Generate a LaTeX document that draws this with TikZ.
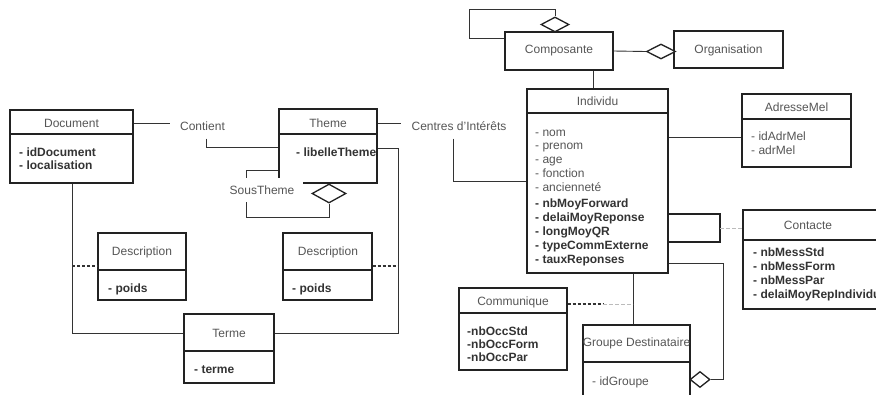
\documentclass[tikz,border=0pt]{standalone}
\usepackage{fontspec}
\setmainfont{Liberation Sans}
\usetikzlibrary{shapes.geometric}
\definecolor{boxc}{HTML}{222222}
\definecolor{linec}{HTML}{333333}
\definecolor{hdc}{HTML}{555555}
\definecolor{atc}{HTML}{333333}
\definecolor{lgc}{HTML}{BBBBBB}
\newcommand\clsbox[5]{\node[cls, minimum width={#4-#2}, minimum height={#5-#3}] (#1) at ({(#2+#4)/2},{(#3+#5)/2}) {};}
\begin{document}
\begin{tikzpicture}[x=1pt,y=-1pt,
 cls/.style={draw=boxc, line width=1.3pt, inner sep=0pt},
 div/.style={draw=boxc, line width=1.3pt},
 hd/.style={text=hdc, font=\fontsize{12}{14}\selectfont, inner sep=0pt},
 attrb/.style={text=atc, font=\fontsize{12}{14}\selectfont\bfseries, inner sep=0pt, align=left, anchor=base west},
 attrn/.style={text=hdc, font=\fontsize{12}{14}\selectfont, inner sep=0pt, align=left, anchor=base west},
 conn/.style={draw=linec, line width=0.9pt},
 loopc/.style={draw=boxc, line width=1.3pt},
 dia/.style={diamond, draw=boxc, line width=1.3pt, fill=white, inner sep=0pt},
 lbl/.style={text=hdc, font=\fontsize{12}{14}\selectfont},
 dkdash/.style={draw=linec, line width=1.2pt, dash pattern=on 3pt off 2pt},
 lgdash/.style={draw=lgc, line width=0.7pt, dash pattern=on 4pt off 2pt},
]
\useasboundingbox (0,0) rectangle (876,394);
\clip (0,0) rectangle (876,394);

% ---- Document
\clsbox{doc}{10}{110}{133}{183}
\draw[div] (doc.west |- 0,134) -- (doc.east |- 0,134);
\node[hd] (docH) at (71.5,123) {Document};
\node[attrb, font=\fontsize{12}{13.5}\selectfont\bfseries] (docA) at (19,169.5) {- idDocument\\- localisation};

% ---- Theme
\clsbox{theme}{279}{109}{377}{183}
\draw[div] (theme.west |- 0,134) -- (theme.east |- 0,134);
\node[hd] (themeH) at (328,123) {Theme};
\node[attrb] (themeA) at (296,156) {- libelleTheme};

% ---- Descriptions
\clsbox{desc1}{98}{233}{186}{300}
\draw[div] (desc1.west |- 0,270) -- (desc1.east |- 0,270);
\node[hd] (desc1H) at (142,252) {Description};
\node[attrb] (desc1A) at (108,292) {- poids};

\clsbox{desc2}{283}{233}{372}{300}
\draw[div] (desc2.west |- 0,270) -- (desc2.east |- 0,270);
\node[hd] (desc2H) at (328,252) {Description};
\node[attrb] (desc2A) at (292,292) {- poids};

% ---- Terme
\clsbox{terme}{184}{314}{274}{383}
\draw[div] (terme.west |- 0,351) -- (terme.east |- 0,351);
\node[hd] (termeH) at (229,333) {Terme};
\node[attrb] (termeA) at (194,373) {- terme};

% ---- Composante / Organisation
\clsbox{comp}{505}{32}{613}{70}
\node[hd] (compH) at (559,51) {Composante};
\clsbox{org}{674}{31}{783}{68}
\node[hd] (orgH) at (728.5,50) {Organisation};

% ---- Individu
\clsbox{indiv}{527}{89}{668}{273}
\draw[div] (indiv.west |- 0,113) -- (indiv.east |- 0,113);
\node[hd] (indivH) at (597.5,101) {Individu};
\node[attrn, font=\fontsize{12}{13.8}\selectfont] (indivA) at (535,191.2) {- nom\\- prenom\\- age\\- fonction\\- ancienneté};
\node[attrb] (indivB) at (535,263) {- nbMoyForward\\- delaiMoyReponse\\- longMoyQR\\- typeCommExterne\\- tauxReponses};

% ---- AdresseMel
\clsbox{adr}{742}{94}{851}{167}
\draw[div] (adr.west |- 0,119) -- (adr.east |- 0,119);
\node[hd] (adrH) at (796.5,107) {AdresseMel};
\node[attrn] (adrA) at (751,154) {- idAdrMel\\- adrMel};

% ---- Contacte
\clsbox{cont}{743}{210}{880}{309}
\draw[div] (cont.west |- 0,240) -- (cont.east |- 0,240);
\node[hd] (contH) at (808,225) {Contacte};
\node[attrb] (contA) at (753,298) {- nbMessStd\\- nbMessForm\\- nbMessPar\\- delaiMoyRepIndividu};

% ---- Communique
\clsbox{comm}{459}{288}{567}{370}
\draw[div] (comm.west |- 0,313) -- (comm.east |- 0,313);
\node[hd] (commH) at (513,302) {Communique};
\node[attrb, font=\fontsize{12}{13}\selectfont\bfseries] (commA) at (467,361) {-nbOccStd\\-nbOccForm\\-nbOccPar};

% ---- Groupe Destinataire
\clsbox{grp}{583}{325}{690}{400}
\draw[div] (grp.west |- 0,362) -- (grp.east |- 0,362);
\node[hd] (grpH) at (636.5,343) {Groupe Destinataire};
\node[attrn] (grpA) at (592,385) {- idGroupe};

% ---- Labels
\node[lbl, inner xsep=10pt, inner ysep=8pt] (contient) at (202.5,126) {Contient};
\node[lbl, inner xsep=10pt, inner ysep=8pt] (centres) at (459,126) {Centres d'Intérêts};
\node[lbl, fill=white, inner sep=0pt, minimum width=74pt, minimum height=24pt] (sous) at (266,190) {SousTheme\hspace*{8pt}};

% ---- Connectors (left part)
\draw[conn] (doc.east |- 0,123) -- (contient.west |- 0,123);
\draw[conn] (contient.south -| 206,0) |- (theme.west |- 0,147);
\draw[conn] (theme.east |- 0,123) -- (centres.west |- 0,123);
\draw[conn] (centres.south -| 453,0) |- (indiv.west |- 0,181);
\draw[conn] (theme.west |- 0,170) -| ([xshift=-20pt]sous.north);
\node[dia, minimum width=34pt, minimum height=19pt] (dThm) at (329,193.5) {};
\draw[conn] ([xshift=-20pt]sous.south) |- (dThm.south |- 0,217) -- (dThm.south);
\draw[conn] (theme.east |- 0,148) -| (398,333) -- (terme.east |- 0,333);
\draw[conn] (doc.south -| 72,0) |- (terme.west |- 0,333);
\coordinate (dl) at (72,266);
\coordinate (dr) at (398,266);
\draw[dkdash] (dl) -- (desc1.west |- dl);
\draw[dkdash] (desc2.east |- dr) -- (dr);

% ---- Connectors (right part)
\node[dia, minimum width=28pt, minimum height=15pt] (dComp) at (555,24.5) {};
\draw[conn] (comp.west |- 0,38) -| (469,9) -| (dComp.north);
\node[dia, minimum width=29pt, minimum height=15pt] (dOrg) at (661,51.5) {};
\draw[conn] (comp.east |- 0,51) -- (dOrg.west);
\draw[conn] (comp.south -| 593,0) -- (indiv.north -| 593,0);
\draw[conn] (indiv.east |- 0,137) -- (adr.west |- 0,137);
\draw[loopc] (indiv.east |- 0,214) -| (720,242) -- (indiv.east |- 0,242);
\coordinate (lp) at (720,228);
\draw[lgdash] (lp) -- (cont.west |- lp);
\node[dia, minimum width=20pt, minimum height=16pt] (dGrp) at (700,379.5) {};
\draw[conn] (indiv.east |- 0,263) -| (723,379.5) -- (dGrp.east);
\draw[conn] (indiv.south -| 633,0) -- (grp.north -| 633,0);
\coordinate (ga) at (633,304);
\coordinate (gm) at (603,304);
\draw[dkdash] (comm.east |- ga) -- (gm);
\draw[lgdash] (gm) -- (ga);
\end{tikzpicture}
\end{document}
